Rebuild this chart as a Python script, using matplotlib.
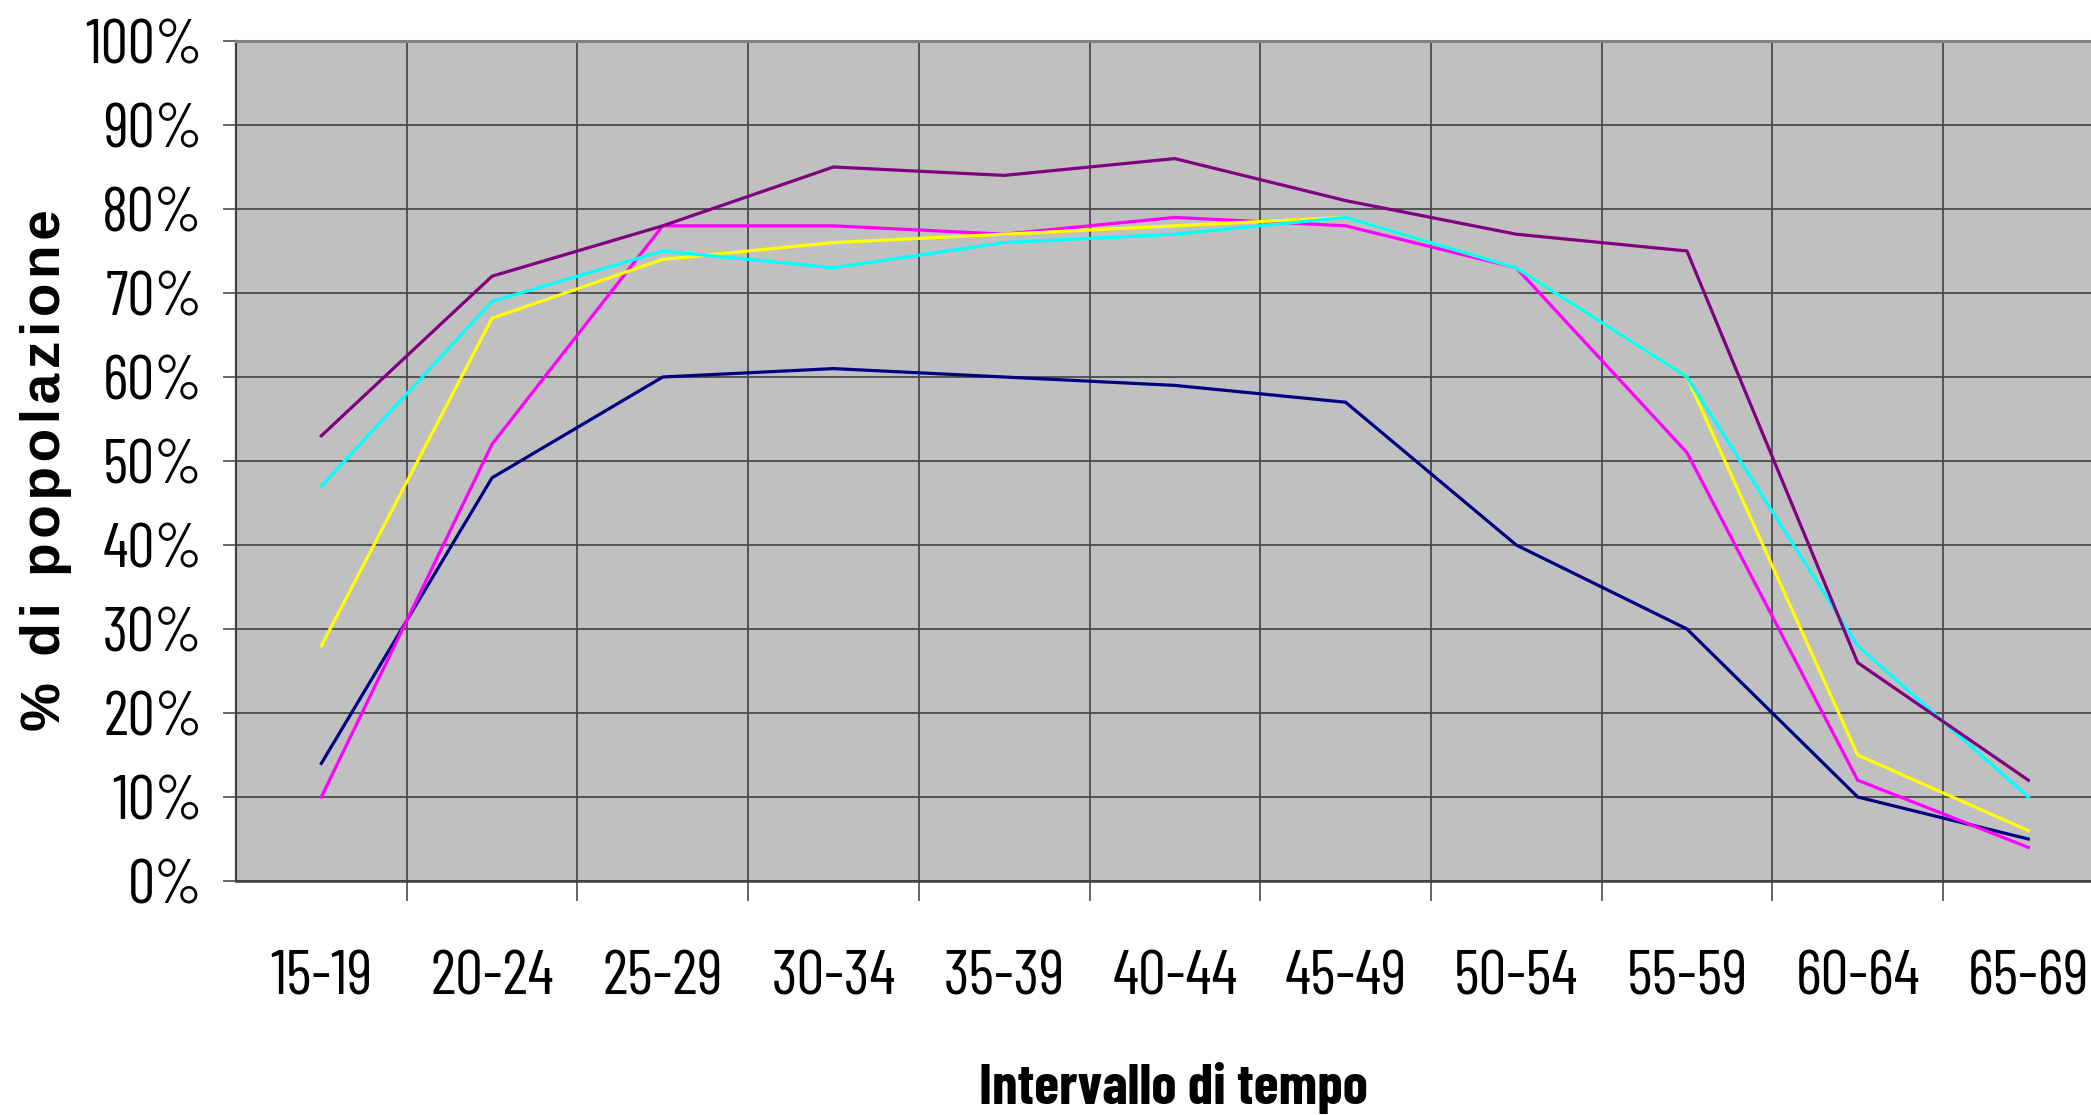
import numpy as np
import matplotlib.pyplot as plt
from matplotlib.ticker import PercentFormatter, FixedLocator

# fasce d'eta'
CATEGORIES = ['15-19', '20-24', '25-29', '30-34', '35-39', '40-44',
              '45-49', '50-54', '55-59', '60-64', '65-69']

# percentuali
NAVY = [14, 48, 60, 61, 60, 59, 57, 40, 30, 10, 5]
MAGENTA = [10, 52, 78, 78, 77, 79, 78, 73, 51, 12, 4]
YELLOW = [28, 67, 74, 76, 77, 78, 79, 73, 60, 15, 6]
CYAN = [47, 69, 75, 73, 76, 77, 79, 73, 60, 28, 10]
PURPLE = [53, 72, 78, 85, 84, 86, 81, 77, 75, 26, 12]

# ordine delle serie come nel foglio (navy sotto, viola sopra)
SERIES = [
    (NAVY, '#000080'),
    (MAGENTA, '#FF00FF'),
    (YELLOW, '#FFFF00'),
    (CYAN, '#00FFFF'),
    (PURPLE, '#800080'),
]

NARROW = ['Barlow Condensed', 'DejaVu Sans']
W, H = 2091, 1115
LEFT, STEP = 236, 170.7
GRID = '#4a4a4a'

fig = plt.figure(figsize=(W / 100, H / 100), dpi=100)
ax = fig.add_axes([LEFT / W, 1 - 881 / H, 1 - LEFT / W, (881 - 41) / H])
ax.set_facecolor('#C0C0C0')

x = np.arange(len(CATEGORIES))
for values, color in SERIES:
    ax.plot(x, np.array(values) / 100, color=color, lw=2.3, solid_joinstyle='miter')

ax.set_xlim(-0.5, -0.5 + (W - LEFT) / STEP)
ax.set_ylim(0, 1)

# confini delle categorie: griglia + tacche verso il basso
ax.xaxis.set_major_locator(FixedLocator(x))
ax.xaxis.set_minor_locator(FixedLocator(x + 0.5))
ax.set_xticklabels(CATEGORIES)
ax.tick_params(axis='x', which='major', length=0, pad=50, labelsize=45)
ax.tick_params(axis='x', which='minor', length=14.4, width=1.2, color=GRID, direction='out')
ax.grid(True, axis='x', which='minor', color=GRID, lw=1.3)

ax.set_yticks(np.arange(0, 1.01, 0.1))
ax.yaxis.set_major_formatter(PercentFormatter(1.0, decimals=0))
ax.tick_params(axis='y', length=9.5, width=1.2, color=GRID, direction='out', pad=14.5, labelsize=44)
ax.grid(True, axis='y', which='major', color=GRID, lw=1.3)
ax.set_axisbelow(True)

for lab in ax.get_xticklabels() + ax.get_yticklabels():
    lab.set_family(NARROW)

ax.spines['right'].set_visible(False)
ax.spines['top'].set_color('#808080')
ax.spines['top'].set_linewidth(2.2)
ax.spines['left'].set_color('#404040')
ax.spines['left'].set_linewidth(1.6)
ax.spines['bottom'].set_color('#404040')
ax.spines['bottom'].set_linewidth(1.8)

fig.text(1173 / W, 1 - 1088 / H, 'Intervallo di tempo', ha='center', va='center',
         fontsize=41, fontweight='bold', family=NARROW)

# etichetta y spaziata: lettere separate da hair space, parole da spazio + thin space
hair, thin = '\u200a', '\u2009'
ylab = '%' + ' ' + thin + hair.join('di') + ' ' + thin + hair.join('popolazione')
ytxt = fig.text(46 / W, 1 - 470 / H, ylab, ha='center', va='center', rotation=90,
                fontsize=38, fontweight='bold', family=['Liberation Sans', 'DejaVu Sans'])
# adatta la dimensione perche' la scritta occupi circa 520 px in altezza
length = ytxt.get_window_extent(fig.canvas.get_renderer()).height
ytxt.set_fontsize(38 * 520 / length)

fig.savefig('out.png', dpi=100)
